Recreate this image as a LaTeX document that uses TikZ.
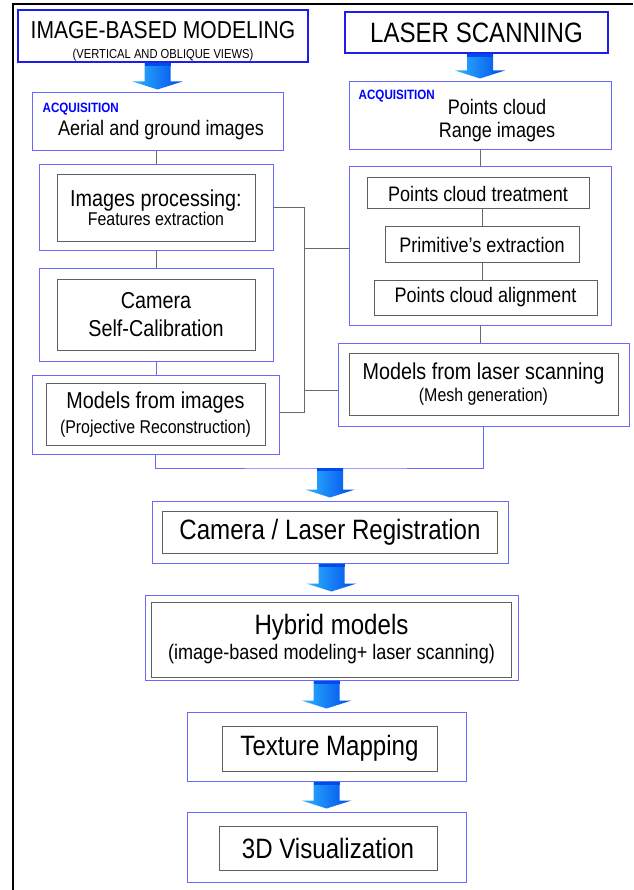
\documentclass[tikz,border=0pt]{standalone}
\usepackage{fontspec}
\setmainfont{Liberation Sans}[FakeStretch=0.86]
\usetikzlibrary{positioning,calc}
\definecolor{titleblue}{RGB}{30,30,235}
\definecolor{frameblue}{RGB}{105,105,255}
\definecolor{boxgray}{RGB}{95,95,95}
\definecolor{linkgray}{RGB}{105,105,105}
\definecolor{tagblue}{RGB}{0,0,255}
\definecolor{arrowlight}{RGB}{45,180,255}
\definecolor{arrowdark}{RGB}{0,75,235}
\newcommand\setsz[2]{\fontsize{#1}{#2}\selectfont}
\tikzset{
  titlebox/.style={draw=titleblue, line width=2pt, fill=white, inner sep=0pt, align=center},
  groupbox/.style={draw=frameblue, line width=1pt, fill=white, inner sep=0pt},
  stagebox/.style={draw=boxgray, line width=1pt, fill=white, inner sep=0pt,
    align=center, font=\setsz{23}{26}},
  acqtag/.style={text=tagblue, font=\bfseries\setsz{13.5}{14}, inner sep=0pt, anchor=north west},
  link/.style={draw=linkgray, line width=1pt},
  bluelink/.style={draw=frameblue, line width=1pt},
  bigarrow/.style={left color=arrowlight, right color=arrowdark}
}
% thick blue block arrow from the bottom of #1 to the top of #2
\newcommand\bigarrow[2]{%
  \shade[bigarrow] let \p1=(#1), \p2=(#2) in
    ({\x2-13pt},\y1) -- ({\x2+13pt},\y1) -- ({\x2+13pt},{\y2+11pt})
    -- ({\x2+25pt},{\y2+11pt}) -- (\x2,{\y2+3pt}) -- ({\x2-25pt},{\y2+11pt})
    -- ({\x2-13pt},{\y2+11pt}) -- cycle;
  \fill[arrowdark] let \p1=(#1), \p2=(#2) in
    ({\x2-13pt},\y1) rectangle ({\x2+13pt},{\y1-3pt});
}

\begin{document}
\begin{tikzpicture}[x=1pt, y=-1pt]
\useasboundingbox (0,0) rectangle (633,890);
\draw[line width=2.5pt] (13,890) -- (13,4) -- (633,4);

% Titles
\node[titlebox, minimum width=290pt, minimum height=52pt, font=\setsz{24.5}{20}, text height=47pt] (imgtitle) at (163,36)
  {IMAGE-BASED MODELING\\{\setsz{13}{20}(VERTICAL AND OBLIQUE VIEWS)}};
\node[titlebox, minimum width=263pt, minimum height=41pt, font=\setsz{28}{30}] (lasertitle) at (476.5,32.5)
  {LASER SCANNING};

% Acquisition
\node[groupbox, minimum width=251pt, minimum height=58pt] (acq1) at (157.5,122) {};
\node[acqtag] (acq1tag) at ([xshift=11pt,yshift=-10pt]acq1.north west) {ACQUISITION};
\node[font=\setsz{21}{24}, inner sep=0pt, anchor=base] (acq1txt) at ([xshift=3.5pt,yshift=-14pt]acq1.center)
  {Aerial and ground images};

\node[groupbox, minimum width=262pt, minimum height=68pt] (acq2) at (480,116) {};
\node[acqtag] (acq2tag) at ([xshift=10pt,yshift=-8pt]acq2.north west) {ACQUISITION};
\node[font=\setsz{21}{23}, inner sep=0pt, align=center] (acq2txt) at ([xshift=17pt,yshift=-5pt]acq2.center)
  {Points cloud\\Range images};

% Image-based branch
\node[groupbox, minimum width=234pt, minimum height=86pt] (proc1) at (156,208) {};
\node[stagebox, minimum width=198pt, minimum height=67pt, font=\setsz{23}{17}] (proc1in) at (proc1)
  {Images processing:\\{\setsz{18.5}{17}Features extraction}};

\node[groupbox, minimum width=234pt, minimum height=92pt] (calib) at (156,315) {};
\node[stagebox, minimum width=198pt, minimum height=71pt, font=\setsz{23}{28}] (calibin) at (calib)
  {Camera\\Self-Calibration};

\node[groupbox, minimum width=247pt, minimum height=79pt] (models1) at (155.5,414.5) {};
\node[stagebox, minimum width=219pt, minimum height=62pt, font=\setsz{23}{25}] (models1in) at (models1)
  {Models from images\\{\setsz{18.5}{25}(Projective Reconstruction)}};

% Laser branch
\node[groupbox, minimum width=262pt, minimum height=158pt] (laserproc) at (480,246) {};
\node[stagebox, minimum width=222pt, minimum height=31pt, font=\setsz{21}{24}] (treat)
  at ([xshift=-2pt,yshift=52.5pt]laserproc.center) {Points cloud treatment};
\node[stagebox, minimum width=194pt, minimum height=36pt, font=\setsz{21}{24}] (prim)
  at ([xshift=2pt,yshift=1pt]laserproc.center) {Primitive’s extraction};
\node[stagebox, minimum width=223pt, minimum height=35pt, font=\setsz{21}{24}] (align)
  at ([xshift=5.5pt,yshift=-51.5pt]laserproc.center) {Points cloud alignment};

\node[groupbox, minimum width=291pt, minimum height=83pt] (models2) at (483.5,384.5) {};
\node[stagebox, minimum width=269pt, minimum height=62pt, font=\setsz{23}{22}] (models2in) at (models2)
  {Models from laser scanning\\{\setsz{18.5}{22}(Mesh generation)}};

% Merged chain
\node[groupbox, minimum width=356pt, minimum height=62pt] (reg) at (330,532) {};
\node[stagebox, minimum width=335pt, minimum height=42pt, font=\setsz{28}{30}] (regin) at (reg)
  {Camera / Laser Registration};

\node[groupbox, minimum width=373pt, minimum height=85pt] (hybrid) at (331.5,637.5) {};
\node[stagebox, minimum width=360pt, minimum height=75pt, font=\setsz{28}{25}] (hybridin)
  at ([yshift=-2pt]hybrid.center)
  {Hybrid models\\{\setsz{21}{25}(image-based modeling+ laser scanning)}};

\node[groupbox, minimum width=279pt, minimum height=69pt] (texture) at (326.5,746.5) {};
\node[stagebox, minimum width=215pt, minimum height=45pt, font=\setsz{28}{30}] (texturein)
  at ([xshift=3pt,yshift=-2pt]texture.center) {Texture Mapping};

\node[groupbox, minimum width=279pt, minimum height=70pt] (vis) at (326.5,847) {};
\node[stagebox, minimum width=218pt, minimum height=44pt, font=\setsz{28}{30}] (visin)
  at ([xshift=1.5pt,yshift=-1pt]vis.center) {3D Visualization};

% Connectors
\draw[link] (proc1.north |- acq1.south) -- (proc1.north);
\draw[link] (proc1.south) -- (calib.north);
\draw[bluelink] (calib.south) -- (calib.south |- models1.north);
\draw[link] (laserproc.north |- acq2.south) -- (laserproc.north);
\draw[link] (prim.north |- treat.south) -- (prim.north);
\draw[link] (prim.south) -- (prim.south |- align.north);
\draw[link] (laserproc.south) -- (laserproc.south |- models2.north);

\coordinate (bus) at ([xshift=31pt]proc1.east);
\draw[link] (proc1.east) -- (bus) |- ([yshift=2.5pt]models1.east);
\draw[link] ([yshift=-3pt]laserproc.west) -| (bus);
\draw[link] ([yshift=-5.5pt]models2.west) -| (bus);

\coordinate (join) at (332,468);
\draw[bluelink] (models1.south) |- (join) -| (models2.south);

% Block arrows
\bigarrow{imgtitle.south}{acq1.north}
\bigarrow{lasertitle.south}{acq2.north}
\bigarrow{join}{reg.north}
\bigarrow{reg.south}{hybrid.north}
\bigarrow{hybrid.south}{texture.north}
\bigarrow{texture.south}{vis.north}

\end{tikzpicture}
\end{document}
